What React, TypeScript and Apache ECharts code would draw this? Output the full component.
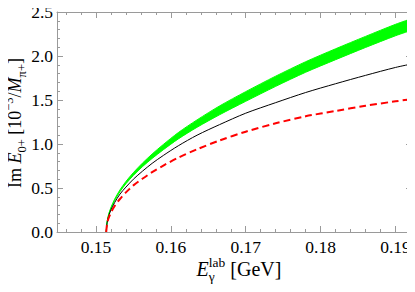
import React, { useEffect, useRef } from "react";
import * as echarts from "echarts";

// Photon lab energy (GeV)
const energy = [0.15137, 0.1515, 0.1517, 0.152, 0.1525, 0.1532, 0.154, 0.155, 0.1562, 0.1575, 0.159, 0.161, 0.1635, 0.1665, 0.17, 0.174, 0.178, 0.182, 0.186, 0.19, 0.1922];
// Green band (lower / upper edge)
const bandLower = [0, 0.118, 0.196, 0.268, 0.358, 0.458, 0.548, 0.643, 0.742, 0.836, 0.935, 1.058, 1.19, 1.332, 1.485, 1.655, 1.815, 1.958, 2.097, 2.23, 2.294];
const bandUpper = [0, 0.122, 0.202, 0.278, 0.374, 0.478, 0.574, 0.675, 0.782, 0.886, 0.995, 1.13, 1.274, 1.432, 1.595, 1.771, 1.935, 2.082, 2.223, 2.36, 2.426];
// Black solid curve
const blackCurve = [0, 0.11, 0.18, 0.25, 0.335, 0.43, 0.51, 0.6, 0.69, 0.78, 0.87, 0.98, 1.1, 1.22, 1.35, 1.47, 1.585, 1.685, 1.78, 1.87, 1.91];
// Red dashed curve
const redCurve = [0, 0.1, 0.16, 0.22, 0.295, 0.375, 0.45, 0.53, 0.605, 0.68, 0.755, 0.845, 0.94, 1.04, 1.14, 1.235, 1.315, 1.375, 1.435, 1.485, 1.51];

const xMajorTicks = [0.15, 0.16, 0.17, 0.18, 0.19];
const xMinorTicks = [0.146, 0.148, 0.152, 0.154, 0.156, 0.158, 0.162, 0.164, 0.166, 0.168, 0.172, 0.174, 0.176, 0.178, 0.182, 0.184, 0.186, 0.188];

const FAMILY = '"Liberation Serif", "Times New Roman", serif';
const FRAME = "#9a9a9a";
const GREEN = "#00ff00";

type Seg = { t: string; size: number; italic?: boolean; dy?: number; sameX?: boolean };

function measure(text: string, size: number, italic?: boolean) {
  const ctx = document.createElement("canvas").getContext("2d")!;
  ctx.font = `${italic ? "italic " : ""}${size}px ${FAMILY}`;
  return ctx.measureText(text).width;
}

function buildLabel(segs: Seg[], gx: number, gy: number, rotation: number) {
  let cur = 0;
  let lastStart = 0;
  const items: any[] = [];
  for (const s of segs) {
    const w = measure(s.t, s.size, s.italic);
    const start = s.sameX ? lastStart : cur;
    items.push({ s, start });
    cur = s.sameX ? Math.max(cur, start + w) : start + w;
    lastStart = start;
  }
  const total = cur;
  const children = items.map(({ s, start }) => ({
    type: "text",
    x: start - total / 2,
    y: (s.dy || 0) - 0.3375 * s.size,
    style: {
      text: s.t,
      fontSize: s.size,
      fontFamily: FAMILY,
      fontStyle: s.italic ? "italic" : "normal",
      fill: "#000",
      textAlign: "left",
      textVerticalAlign: "middle",
    },
  }));
  return { type: "group", x: gx, y: gy, rotation, children };
}

export default function App() {
  const ref = useRef<HTMLDivElement>(null);
  useEffect(() => {
    const chart = echarts.init(ref.current!, null, { renderer: "svg" });
    const xMin = 0.1448;
    const xMax = 0.1922;
    const baseX = {
      type: "value",
      min: xMin,
      max: xMax,
      splitLine: { show: false },
      axisLine: { show: true, onZero: false, lineStyle: { color: FRAME, width: 1 } },
    };
    const tickStyle = { color: FRAME, width: 1 };
    const yLabel = buildLabel(
      [
        { t: "Im ", size: 18 },
        { t: "E", size: 18, italic: true },
        { t: "0+", size: 12.5, dy: 5 },
        { t: " [10", size: 18 },
        { t: "\u22123", size: 12.5, dy: -8 },
        { t: "/", size: 18 },
        { t: "M", size: 18, italic: true },
        { t: "\u03c0+", size: 12.5, dy: 5 },
        { t: "]", size: 18 },
      ],
      21,
      123,
      Math.PI / 2
    );
    const xLabel = buildLabel(
      [
        { t: "E", size: 20, italic: true },
        { t: "lab", size: 13.5, dy: -9 },
        { t: "\u03b3", size: 13.5, dy: 5, sameX: true },
        { t: " [GeV]", size: 20 },
      ],
      239,
      276,
      0
    );
    const lineCommon = {
      type: "line",
      xAxisIndex: 0,
      yAxisIndex: 0,
      showSymbol: false,
      symbol: "none",
      smooth: 0.3,
    };
    chart.setOption({
      animation: false,
      grid: { left: 57, right: 3, top: 12, bottom: 60 },
      xAxis: [
        {
          ...baseX,
          position: "bottom",
          axisTick: { show: true, inside: true, length: 6, customValues: xMajorTicks, lineStyle: tickStyle },
          axisLabel: {
            show: true,
            customValues: xMajorTicks,
            margin: 6,
            color: "#000",
            fontSize: 17.5,
            fontFamily: FAMILY,
            formatter: (v: number) => v.toFixed(2),
          },
        },
        {
          ...baseX,
          position: "bottom",
          axisLine: { show: false, onZero: false },
          axisTick: { show: true, inside: true, length: 3, customValues: xMinorTicks, lineStyle: tickStyle },
          axisLabel: { show: false },
        },
        {
          ...baseX,
          position: "top",
          axisTick: { show: true, inside: true, length: 6, customValues: xMajorTicks, lineStyle: tickStyle },
          axisLabel: { show: false },
        },
        {
          ...baseX,
          position: "top",
          axisLine: { show: false, onZero: false },
          axisTick: { show: true, inside: true, length: 3, customValues: xMinorTicks, lineStyle: tickStyle },
          axisLabel: { show: false },
        },
      ],
      yAxis: [
        {
          type: "value",
          position: "left",
          min: 0,
          max: 2.5,
          interval: 0.5,
          splitLine: { show: false },
          axisLine: { show: true, onZero: false, lineStyle: { color: FRAME, width: 1 } },
          axisTick: { show: true, inside: true, length: 6, lineStyle: tickStyle },
          minorTick: { show: true, splitNumber: 5, length: 3, lineStyle: tickStyle },
          minorSplitLine: { show: false },
          axisLabel: {
            show: true,
            margin: 4,
            color: "#000",
            fontSize: 17.5,
            fontFamily: FAMILY,
            formatter: (v: number) => v.toFixed(1),
          },
        },
        {
          type: "value",
          position: "right",
          min: 0,
          max: 2.5,
          interval: 0.5,
          splitLine: { show: false },
          axisLine: { show: true, onZero: false, lineStyle: { color: FRAME, width: 1 } },
          axisTick: { show: true, inside: true, length: 6, lineStyle: tickStyle },
          minorTick: { show: true, splitNumber: 5, length: 3, lineStyle: tickStyle },
          axisLabel: { show: false },
        },
      ],
      series: [
        {
          type: "custom",
          xAxisIndex: 0,
          yAxisIndex: 0,
          clip: true,
          data: energy.map((x, i) => [x, bandLower[i], bandUpper[i]]),
          encode: { x: 0, y: [1, 2] },
          renderItem: (params: any, api: any) => {
            if (params.dataIndex !== 0) return null;
            const pts: number[][] = [];
            for (let i = 0; i < energy.length; i++) pts.push(api.coord([energy[i], bandUpper[i]]));
            for (let i = energy.length - 1; i >= 0; i--) pts.push(api.coord([energy[i], bandLower[i]]));
            return {
              type: "polygon",
              shape: { points: pts },
              style: { fill: GREEN, stroke: null },
            };
          },
          z: 2,
        },
        {
          ...lineCommon,
          data: energy.map((x, i) => [x, bandUpper[i]]),
          lineStyle: { color: GREEN, width: 1 },
          z: 2,
        },
        {
          ...lineCommon,
          data: energy.map((x, i) => [x, bandLower[i]]),
          lineStyle: { color: GREEN, width: 1 },
          z: 2,
        },
        {
          ...lineCommon,
          data: energy.map((x, i) => [x, blackCurve[i]]),
          lineStyle: { color: "#000", width: 1 },
          z: 3,
        },
        {
          ...lineCommon,
          data: energy.map((x, i) => [x, redCurve[i]]),
          lineStyle: { color: "#ff0000", width: 2, type: [7, 4] },
          z: 4,
        },
      ],
      graphic: [yLabel, xLabel],
    });
    return () => chart.dispose();
  }, []);
  return <div ref={ref} style={{ width: 415, height: 292, marginLeft: -8, marginTop: -8 }} />;
}
